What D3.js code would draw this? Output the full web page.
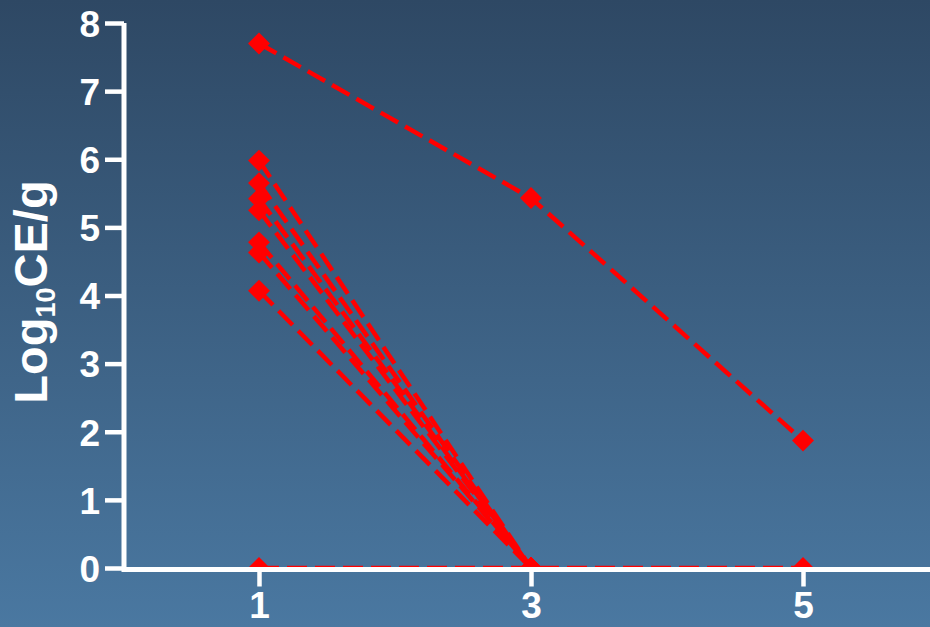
<!DOCTYPE html>
<html><head><meta charset="utf-8">
<script src="https://cdn.jsdelivr.net/npm/d3@7"></script>
<style>html,body{margin:0;padding:0;overflow:hidden;}svg{display:block;}</style>
</head><body>
<svg id="chart" width="930" height="627"></svg>
<script>
// ---- data ----
const days = [1, 3, 5];
const xTicks = [1, 3, 5];
const yTicks = [0, 1, 2, 3, 4, 5, 6, 7, 8];
const s1 = [7.7, 5.43, 1.87];
const s2 = [5.98, 0];
const s3 = [5.65, 0];
const s4 = [5.42, 0];
const s5 = [5.25, 0];
const s6 = [4.78, 0];
const s7 = [4.63, 0];
const s8 = [4.07, 0];
const s9 = [0, 0, 0];
const seriesList = [s9, s8, s7, s6, s5, s4, s3, s2, s1];

const W = 930, H = 627;
const svg = d3.select('#chart');
const defs = svg.append('defs');
const grad = defs.append('linearGradient').attr('id','bg').attr('x1',0).attr('y1',0).attr('x2',0).attr('y2',1);
grad.append('stop').attr('offset','0%').attr('stop-color','#2e4864');
grad.append('stop').attr('offset','100%').attr('stop-color','#4a78a1');
svg.append('rect').attr('width',W).attr('height',H).attr('fill','url(#bg)');

const x = d3.scaleLinear().domain([0, 6]).range([123, 939]);
const y = d3.scaleLinear().domain([0, 8]).range([568, 23]);

defs.append('clipPath').attr('id','clip').append('rect')
  .attr('x', 0).attr('y', 0).attr('width', W).attr('height', y(0));

const plot = svg.append('g').attr('clip-path','url(#clip)');
const line = d3.line().x((d,i)=>x(days[i])).y(d=>y(d));
seriesList.forEach(s=>{
  plot.append('path').datum(s).attr('d', line)
    .attr('fill','none').attr('stroke','#ff0000').attr('stroke-width',4.5)
    .attr('stroke-dasharray','20,8');
});
const diamond = d3.symbol().type(d3.symbolSquare).size(15.5*15.5);
seriesList.forEach(s=>{
  plot.selectAll(null).data(s).enter().append('path')
    .attr('d', diamond)
    .attr('transform',(d,i)=>`translate(${x(days[i])},${y(d)}) rotate(45)`)
    .attr('fill','#ff0000');
});

// axes
const white = '#ffffff';
const font = 'Liberation Sans, Arial, sans-serif';
const yAxis = svg.append('g').attr('transform',`translate(${x(0)+1},0)`)
  .call(d3.axisLeft(y).tickValues(yTicks).tickFormat(d3.format('d')).tickSize(19).tickPadding(5));
const xAxis = svg.append('g').attr('transform',`translate(0,${y(0)+1.5})`)
  .call(d3.axisBottom(x).tickValues(xTicks).tickFormat(d3.format('d')).tickSize(17).tickPadding(8));
[yAxis, xAxis].forEach(g=>{
  g.select('.domain').attr('stroke',white).attr('stroke-width',5);
  g.selectAll('.tick line').attr('stroke',white).attr('stroke-width',4.5);
  g.selectAll('.tick text').attr('fill',white)
    .attr('font-family',font).attr('font-weight','bold');
});
yAxis.selectAll('.tick text').attr('font-size',37).attr('dy','0.36em');
xAxis.selectAll('.tick text').attr('font-size',37).attr('y',48).attr('dy',0);
yAxis.select('.domain').attr('d', `M0,${y(8)}V${y(0)+4}`);
xAxis.select('.domain').attr('d', `M${x(0)-1},0H${W+10}`);

// y label
const lab = svg.append('text')
  .attr('transform','translate(47,292) rotate(-90)')
  .attr('text-anchor','middle')
  .attr('fill',white)
  .attr('font-family',font)
  .attr('font-weight','bold').attr('font-size',47);
lab.append('tspan').text('Log');
lab.append('tspan').attr('font-size',27).attr('dy',8).text('10');
lab.append('tspan').attr('dy',-8).text('CE/g');
</script>
</body></html>
